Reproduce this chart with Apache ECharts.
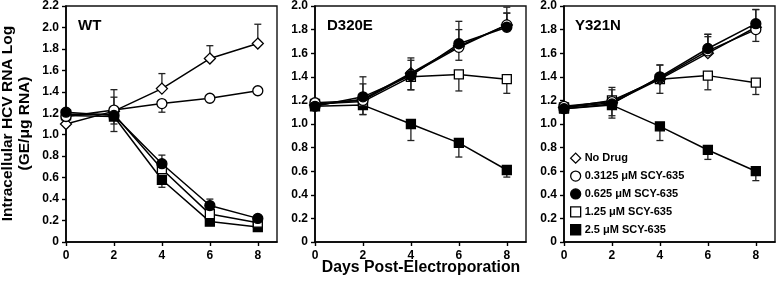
<!DOCTYPE html>
<html><head><meta charset="utf-8">
<script src="https://cdn.jsdelivr.net/npm/echarts@6/dist/echarts.min.js"></script>
<style>html,body{margin:0;padding:0;background:#fff}#c{width:777px;height:284px}</style>
</head><body><div id="c"></div>
<script>
// ---- data ----
const days = [0, 2, 4, 6, 8];
const xTickValues = [0, 2, 4, 6, 8];
const seriesNames = ['No Drug', '0.3125 μM SCY-635', '0.625 μM SCY-635', '1.25 μM SCY-635', '2.5 μM SCY-635'];
const panelNames = ['WT', 'D320E', 'Y321N'];
const yMaxWT = 2.2;
const yMaxMut = 2.0;

// WT  (error: + = upper bar, - = lower bar, 0 = none)
const wtNoDrug   = [1.10, 1.22, 1.43, 1.71, 1.85];
const wtNoDrugErr= [0, 0.20, 0.14, 0.12, 0.18];
const wt03125    = [1.17, 1.23, 1.29, 1.34, 1.41];
const wt03125Err = [0, 0.12, -0.08, 0, 0];
const wt0625     = [1.21, 1.18, 0.73, 0.34, 0.22];
const wt0625Err  = [0, -0.08, 0.08, 0.06, 0];
const wt125      = [1.19, 1.19, 0.68, 0.26, 0.18];
const wt125Err   = [0, 0, 0, 0, 0];
const wt25       = [1.18, 1.17, 0.58, 0.19, 0.14];
const wt25Err    = [0, -0.14, -0.07, 0, 0];

// D320E
const dNoDrug    = [1.16, 1.21, 1.43, 1.66, 1.84];
const dNoDrugErr = [0, 0.19, 0.13, 0.21, 0.15];
const d03125     = [1.18, 1.20, 1.42, 1.65, 1.84];
const d03125Err  = [0, 0.14, 0.12, -0.11, 0.10];
const d0625      = [1.15, 1.23, 1.41, 1.68, 1.82];
const d0625Err   = [0, -0.15, -0.12, 0.12, 0.12];
const d125       = [1.17, 1.19, 1.40, 1.42, 1.38];
const d125Err    = [0, -0.11, -0.11, -0.14, -0.12];
const d25        = [1.15, 1.16, 1.00, 0.84, 0.61];
const d25Err     = [0, 0, -0.14, -0.12, -0.06];

// Y321N
const yNoDrug    = [1.14, 1.18, 1.38, 1.60, 1.82];
const yNoDrugErr = [0, 0.13, 0.12, 0.16, 0.15];
const y03125     = [1.15, 1.19, 1.39, 1.62, 1.80];
const y03125Err  = [0, 0.10, 0, 0.12, -0.10];
const y0625      = [1.13, 1.17, 1.40, 1.64, 1.85];
const y0625Err   = [0, -0.12, 0.10, 0.12, 0.12];
const y125       = [1.14, 1.20, 1.38, 1.41, 1.35];
const y125Err    = [0, -0.13, -0.12, -0.12, -0.10];
const y25        = [1.13, 1.16, 0.98, 0.78, 0.60];
const y25Err     = [0, 0, -0.12, -0.08, -0.08];

const panelValues = [
  [wtNoDrug, wt03125, wt0625, wt125, wt25],
  [dNoDrug, d03125, d0625, d125, d25],
  [yNoDrug, y03125, y0625, y125, y25]
];
const panelErrors = [
  [wtNoDrugErr, wt03125Err, wt0625Err, wt125Err, wt25Err],
  [dNoDrugErr, d03125Err, d0625Err, d125Err, d25Err],
  [yNoDrugErr, y03125Err, y0625Err, y125Err, y25Err]
];

// ---- styling ----
const FONT = "'Liberation Sans', Arial, Helvetica, sans-serif";
const markers = [
  {symbol: 'diamond', size: 11, fill: '#fff'},
  {symbol: 'circle', size: 10, fill: '#fff'},
  {symbol: 'circle', size: 10, fill: '#000'},
  {symbol: 'rect', size: 9, fill: '#fff'},
  {symbol: 'rect', size: 9, fill: '#000'}
];
const drawOrder = [4, 3, 0, 1, 2];
const gridLefts = [66, 315, 564];
const gridW = 211, gridTop = 5, gridH = 237;

const chart = echarts.init(document.getElementById('c'), null, {renderer: 'canvas'});

const grids = [], xAxes = [], yAxes = [], series = [];
for (let p = 0; p < 3; p++) {
  grids.push({left: gridLefts[p], top: gridTop, width: gridW, height: gridH,
    show: true, borderColor: '#111', borderWidth: 1.4, backgroundColor: 'transparent'});
  const ymax = p === 0 ? yMaxWT : yMaxMut;
  xAxes.push({type: 'value', gridIndex: p, min: 0, max: 8.8, interval: 2,
    axisLine: {show: true, onZero: false, lineStyle: {color: '#000', width: 1.6}},
    axisTick: {show: true, length: 4, lineStyle: {color: '#000', width: 1.4}, customValues: xTickValues},
    axisLabel: {customValues: xTickValues, margin: 8, color: '#000', fontSize: 12, fontWeight: 'bold', fontFamily: FONT},
    splitLine: {show: false}});
  yAxes.push({type: 'value', gridIndex: p, min: 0, max: ymax, interval: 0.2,
    axisLine: {show: true, onZero: false, lineStyle: {color: '#000', width: 1.6}},
    axisTick: {show: true, length: 4, lineStyle: {color: '#000', width: 1.4}},
    axisLabel: {margin: 7, color: '#000', fontSize: 12, fontWeight: 'bold', fontFamily: FONT,
      formatter: v => v === 0 ? '0' : v.toFixed(1)},
    splitLine: {show: false}});

  // error bars
  const errData = [];
  for (let s = 0; s < 5; s++) {
    for (let i = 0; i < days.length; i++) {
      errData.push([days[i], panelValues[p][s][i], panelErrors[p][s][i]]);
    }
  }
  series.push({
    type: 'custom', xAxisIndex: p, yAxisIndex: p, z: 1, silent: true,
    data: errData, encode: {x: 0, y: 1},
    renderItem: function (params, api) {
      const x = api.value(0), y = api.value(1), e = api.value(2);
      if (!e) return null;
      const p0 = api.coord([x, y]), p1 = api.coord([x, y + e]);
      const w = 3.5;
      return {type: 'group', children: [
        {type: 'line', shape: {x1: p0[0], y1: p0[1], x2: p1[0], y2: p1[1]}, style: {stroke: '#222', lineWidth: 1.3}},
        {type: 'line', shape: {x1: p1[0] - w, y1: p1[1], x2: p1[0] + w, y2: p1[1]}, style: {stroke: '#222', lineWidth: 1.3}}
      ]};
    }
  });

  drawOrder.forEach((s, k) => {
    const m = markers[s];
    series.push({
      type: 'line', name: seriesNames[s], xAxisIndex: p, yAxisIndex: p, z: 2 + k,
      data: days.map((d, i) => [d, panelValues[p][s][i]]),
      symbol: m.symbol, symbolSize: m.size, showAllSymbol: true,
      lineStyle: {color: '#000', width: 1.5},
      itemStyle: {color: m.fill, borderColor: '#000', borderWidth: 1.3},
      emphasis: {disabled: true}
    });
  });
}

const legendData = seriesNames.map((n, s) => ({
  name: n, icon: markers[s].symbol,
  itemStyle: {color: markers[s].fill, borderColor: '#000', borderWidth: 1.3}
}));

const texts = [
  {type: 'text', left: 78, top: 18, style: {text: 'WT', font: `bold 15px ${FONT}`, fill: '#000'}},
  {type: 'text', left: 327, top: 18, style: {text: 'D320E', font: `bold 15px ${FONT}`, fill: '#000'}},
  {type: 'text', left: 575, top: 18, style: {text: 'Y321N', font: `bold 15px ${FONT}`, fill: '#000'}},
  {type: 'text', x: 8, y: 123.5, rotation: Math.PI / 2,
    style: {text: 'Intracellular HCV RNA Log', font: `bold 15.5px ${FONT}`, fill: '#000', align: 'center', verticalAlign: 'middle'}},
  {type: 'text', x: 25, y: 123.5, rotation: Math.PI / 2,
    style: {text: '(GE/μg RNA)', font: `bold 15.5px ${FONT}`, fill: '#000', align: 'center', verticalAlign: 'middle'}},
  {type: 'text', x: 421, y: 268, style: {text: 'Days Post-Electroporation', font: `bold 15.8px ${FONT}`, fill: '#000', align: 'center', verticalAlign: 'middle'}}
];

chart.setOption({
  animation: false,
  backgroundColor: '#fff',
  grid: grids, xAxis: xAxes, yAxis: yAxes, series: series,
  legend: {
    data: legendData, orient: 'vertical', left: 570, top: 152.5, padding: 0, itemWidth: 10, itemHeight: 10,
    itemGap: 6.6, selectedMode: false,
    textStyle: {color: '#000', fontSize: 11, fontWeight: 'bold', fontFamily: FONT, lineHeight: 11, padding: [0, 0, 0, -1]}
  },
  graphic: texts
});
</script>
</body></html>
